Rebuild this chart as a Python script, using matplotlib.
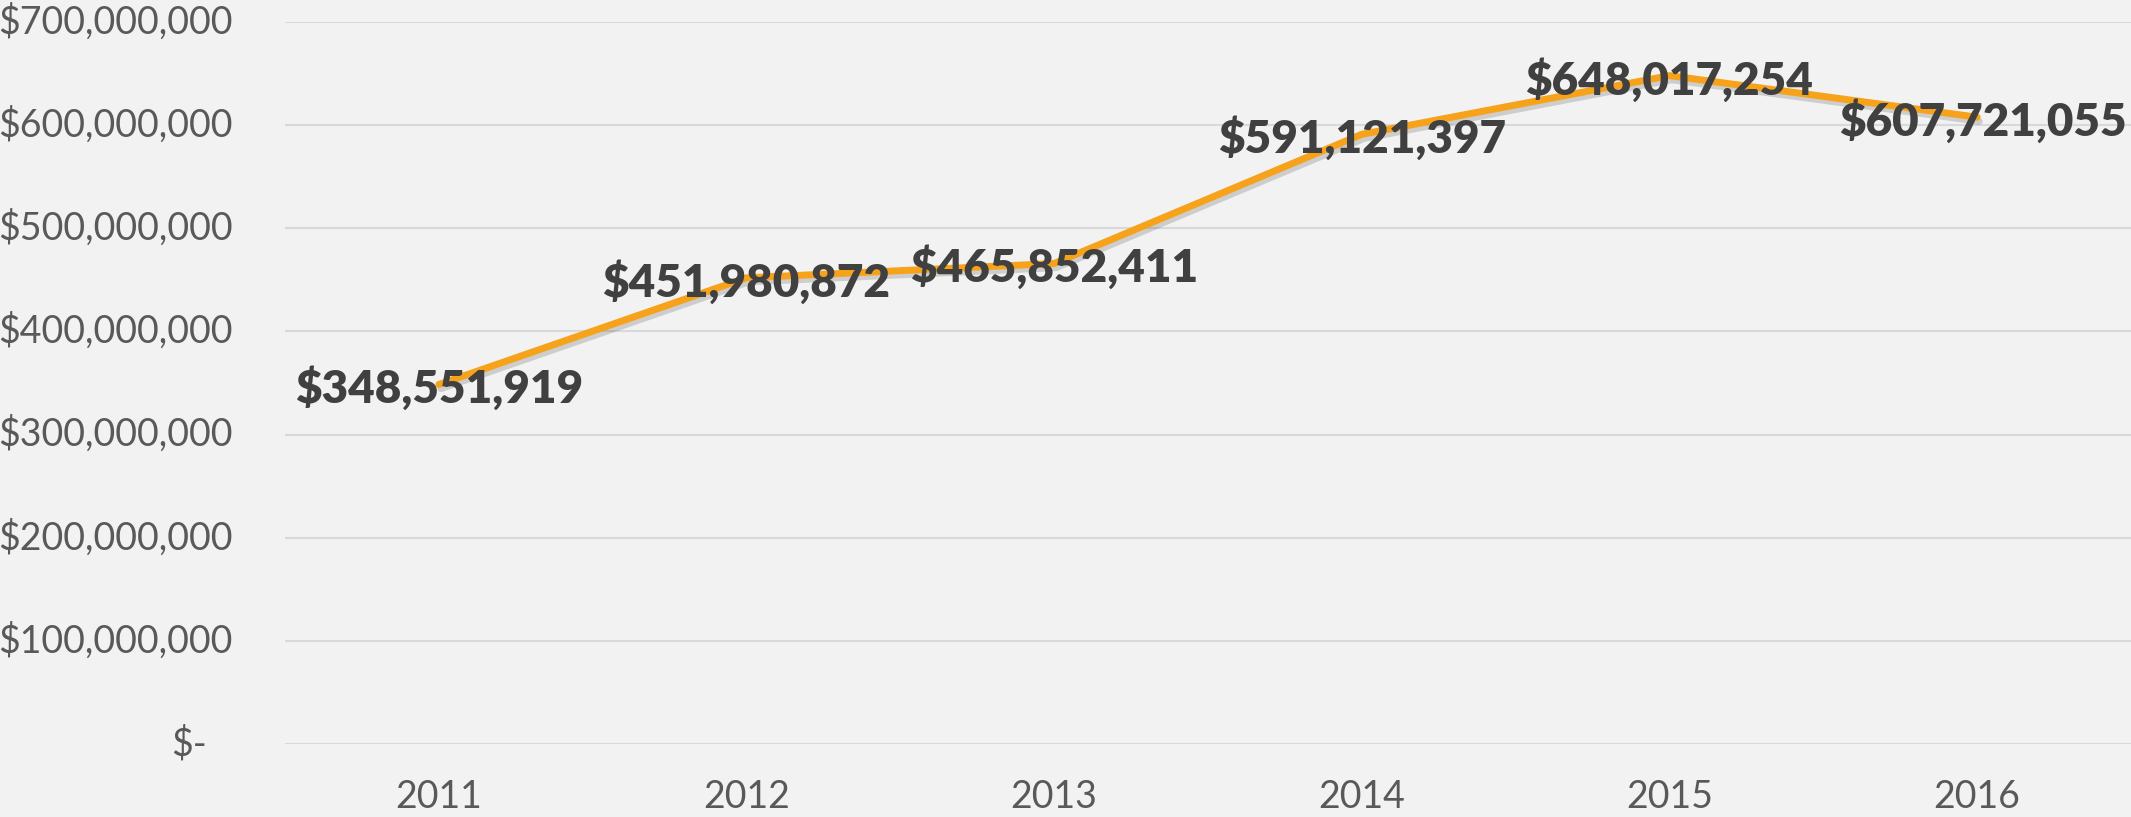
import matplotlib.pyplot as plt
import matplotlib.patheffects as pe
import numpy as np

years = ["2011", "2012", "2013", "2014", "2015", "2016"]
amounts = [348551919, 451980872, 465852411, 591121397, 648017254, 607721055]
y_ticks = [0, 100000000, 200000000, 300000000, 400000000,
           500000000, 600000000, 700000000]

bg = "#F2F2F2"
line_color = "#F7A21B"
label_color = "#404040"
tick_color = "#595959"


def money(v):
    return "$-" if v == 0 else f"${v:,.0f}"


fig = plt.figure(figsize=(21.31, 8.17), dpi=100, facecolor=bg)
ax = fig.add_axes([285 / 2131, 73 / 817, 1 - 285 / 2131, 722 / 817])
ax.set_facecolor(bg)

x = np.arange(len(years))
ax.plot(x, amounts, color=line_color, lw=5, solid_joinstyle="round",
        solid_capstyle="round", zorder=3,
        path_effects=[pe.SimpleLineShadow(offset=(1.5, -3), shadow_color="#000000",
                                          alpha=0.15, rho=1),
                      pe.Normal()])

for i, v in enumerate(amounts):
    ha = "center"
    xi = x[i]
    if i == len(amounts) - 1:
        ha = "right"
        xi = x[i] + 0.485
    ax.text(xi, v, money(v), ha=ha, va="center_baseline", fontsize=33,
            fontweight="heavy", family="Lato", color=label_color, zorder=4)

ax.set_xlim(-0.5, len(years) - 0.5)
ax.set_ylim(0, 700000000)
ax.set_yticks(y_ticks)
ax.set_yticklabels([])
ax.yaxis.grid(True, color="#D9D9D9", lw=1.5)
ax.set_axisbelow(True)
ax.tick_params(length=0)
for s in ax.spines.values():
    s.set_visible(False)

ax.set_xticks(x)
ax.set_xticklabels(years, fontsize=27, family="Lato", color=tick_color)
ax.tick_params(axis="x", pad=25)

for t in y_ticks:
    xo = -52 / 1846 if t else -78 / 1846
    ax.text(xo, t, money(t), transform=ax.get_yaxis_transform(), ha="right",
            va="center", fontsize=27, family="Lato", color=tick_color,
            clip_on=False)

fig.savefig("out.png", dpi=100, facecolor=bg)
